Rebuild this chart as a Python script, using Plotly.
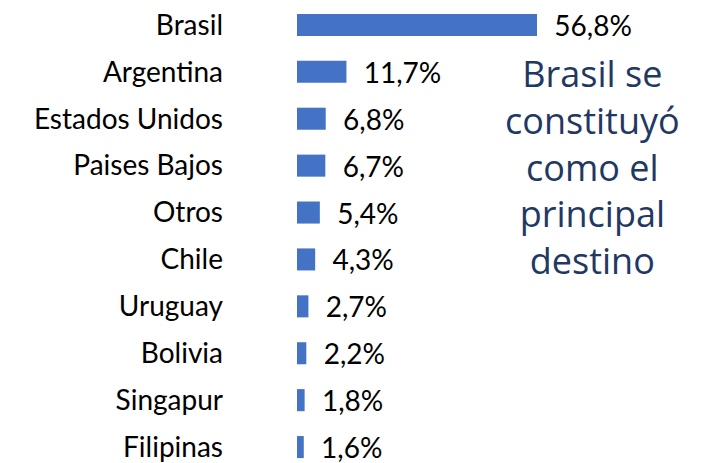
import plotly.graph_objects as go

categories = ["Brasil", "Argentina", "Estados Unidos", "Paises Bajos", "Otros",
              "Chile", "Uruguay", "Bolivia", "Singapur", "Filipinas"]
values = [56.8, 11.7, 6.8, 6.7, 5.4, 4.3, 2.7, 2.2, 1.8, 1.6]
value_labels = ["56,8%", "11,7%", "6,8%", "6,7%", "5,4%", "4,3%", "2,7%", "2,2%", "1,8%", "1,6%"]
note_lines = ["Brasil se", "constituyó", "como el", "principal", "destino"]

fig = go.Figure(go.Bar(
    y=categories, x=values, orientation="h",
    marker=dict(color="#4472C4", line=dict(width=0)),
    width=0.47,
    text=["\u00a0\u00a0" + t for t in value_labels], textposition="outside",
    constraintext="none",
    textfont=dict(family="Lato", size=28, color="#000000"),
    cliponaxis=False,
))

fig.add_annotation(
    xref="paper", yref="paper",
    x=(592 - 224) / (712 - 224), y=1 - 168 / 463,
    xanchor="center", yanchor="middle",
    text="<br>".join(note_lines), showarrow=False,
    font=dict(family="Open Sans", size=36, color="#1F3864"),
    align="center",
)

fig.update_layout(
    width=712, height=463,
    margin=dict(l=224, r=0, t=0, b=0),
    paper_bgcolor="white", plot_bgcolor="white",
    showlegend=False,
    xaxis=dict(range=[-17.28, 98.22], visible=False),
    yaxis=dict(type="category", categoryorder="array", categoryarray=categories,
               range=[9.297, -0.531], showgrid=False, zeroline=False, showline=False,
               ticks="", tickfont=dict(family="Lato", size=28, color="#000000")),
)
fig.write_html("out.html", config={"displayModeBar": False},
               post_script="document.body.style.margin='0';")
